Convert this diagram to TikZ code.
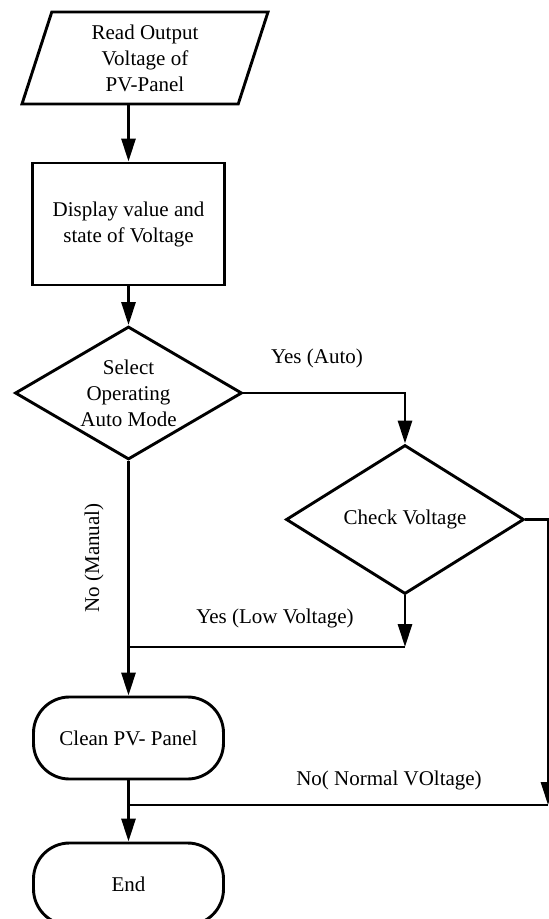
\documentclass[tikz,border=0pt]{standalone}
\usepackage{fontspec}
\setmainfont{Liberation Serif}
\usetikzlibrary{shapes.geometric,arrows.meta}

\tikzset{
	every node/.style={font=\fontsize{10.5}{13}\selectfont, align=center},
	inputbox/.style={draw, trapezium, trapezium left angle=66, trapezium right angle=114, trapezium stretches body, minimum width=123pt, minimum height=46pt, inner sep=0pt},
	procbox/.style={draw, rectangle, minimum width=96pt, minimum height=61pt},
	decbox/.style={draw, diamond, aspect=1.7, inner sep=0pt},
	termbox/.style={draw, rectangle, rounded corners=18pt, minimum width=95pt, minimum height=41pt},
	arr/.style={-{Triangle[length=11.5pt,width=7pt]}}
}

\begin{document}
\begin{tikzpicture}[x=0.5pt, y=-0.5pt, line width=1.45pt]
	\useasboundingbox (0,0) rectangle (549,919);
	%blocks
	\node[inputbox] (read) at (145,58) {Read Output\\Voltage of\\PV-Panel};
	\node[procbox] (disp) at (128.5,224) {Display value and\\state of Voltage};
	\node[decbox, minimum width=113.5pt, minimum height=66.5pt] (mode) at (128.5,393) {Select\\Operating\\Auto Mode};
	\node[decbox, minimum width=119pt, minimum height=74.5pt] (check) at (405,519.5) {Check Voltage};
	\node[termbox] (clean) at (128.5,738) {Clean PV- Panel};
	\node[termbox] (stop) at (128.5,884) {End};
	%junctions
	\coordinate (lowj) at (128.5,647);
	\coordinate (normj) at (128.5,805);
	\coordinate (rside) at (548,805);
	%labels
	\node (autolbl) at (317,358) {Yes (Auto)};
	\node[rotate=90] (manlbl) at (94,558) {No (Manual)};
	\node (lowlbl) at (275,618) {Yes (Low Voltage)};
	\node (normlbl) at (389,780) {No( Normal VOltage)};
	%arrows
	\draw[arr] (read.south -| disp.north) -- (disp.north);
	\draw[arr] (disp.south) -- (mode.north);
	\draw[arr] (mode.east) -| (check.north);
	\draw[arr] (mode.south) -- (clean.north);
	\draw[arr] (check.south) -- (check.south |- lowj);
	\draw (check.south |- lowj) -- (lowj);
	\draw[arr] (check.east) -| (rside);
	\draw (rside) -- (normj);
	\draw[arr] (clean.south) -- (stop.north);
\end{tikzpicture}
\end{document}
